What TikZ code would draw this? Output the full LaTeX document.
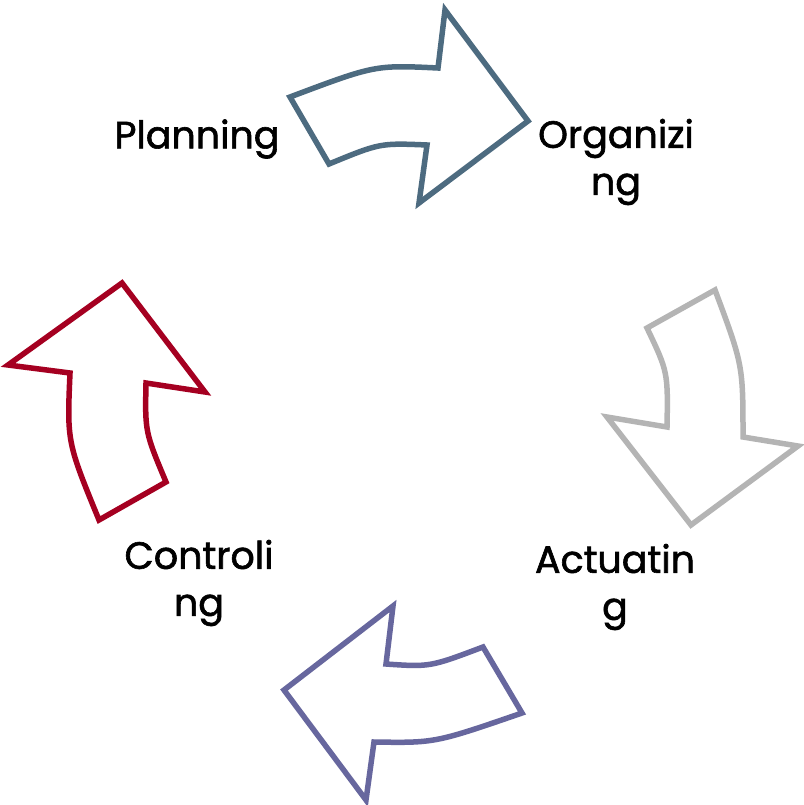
\documentclass[tikz,border=0pt]{standalone}
\usepackage{fontspec}
\setmainfont{Poppins}[FakeBold=1.6]
\definecolor{arrA}{RGB}{77,107,128}
\definecolor{arrB}{RGB}{180,180,180}
\definecolor{arrC}{RGB}{103,103,158}
\definecolor{arrD}{RGB}{165,0,33}
\begin{document}
\begin{tikzpicture}[x=1pt,y=-1pt,
  arrowshape/.style={line width=5.5pt,line join=miter,fill=white},
  lbl/.style={inner sep=0pt,align=center,font=\fontsize{38}{47}\selectfont}]
\useasboundingbox (0,0) rectangle (803,805);
% top arrow
\draw[arrowshape,draw=arrA] (290,97) .. controls (375,65) .. (438,68) -- (445,10) -- (528,121)
  -- (419,203) -- (427,145) .. controls (380,143) .. (329,164) -- cycle;
% right arrow
\draw[arrowshape,draw=arrB] (715,290) .. controls (743,365) .. (743,437) -- (798,446) -- (691,525)
  -- (607,417) -- (667,427) .. controls (668,372) .. (647,328) -- cycle;
% bottom arrow
\draw[arrowshape,draw=arrC] (522,713) .. controls (435,743) .. (374,742) -- (366,800) -- (284,690)
  -- (393,606) -- (386,664) .. controls (430,667) .. (483,647) -- cycle;
% left arrow
\draw[arrowshape,draw=arrD] (99,520) .. controls (67,442) .. (70,373) -- (8,365) -- (122,283)
  -- (205,392) -- (146,383) .. controls (145,432) .. (166,482) -- cycle;
\node[lbl] (plan) at (197,139) {Planning};
\node[lbl] (org) at (616,162) {Organizi\\ng};
\node[lbl] (act) at (615,587) {Actuatin\\g};
\node[lbl] (ctl) at (199,583) {Controli\\ng};
\end{tikzpicture}
\end{document}
